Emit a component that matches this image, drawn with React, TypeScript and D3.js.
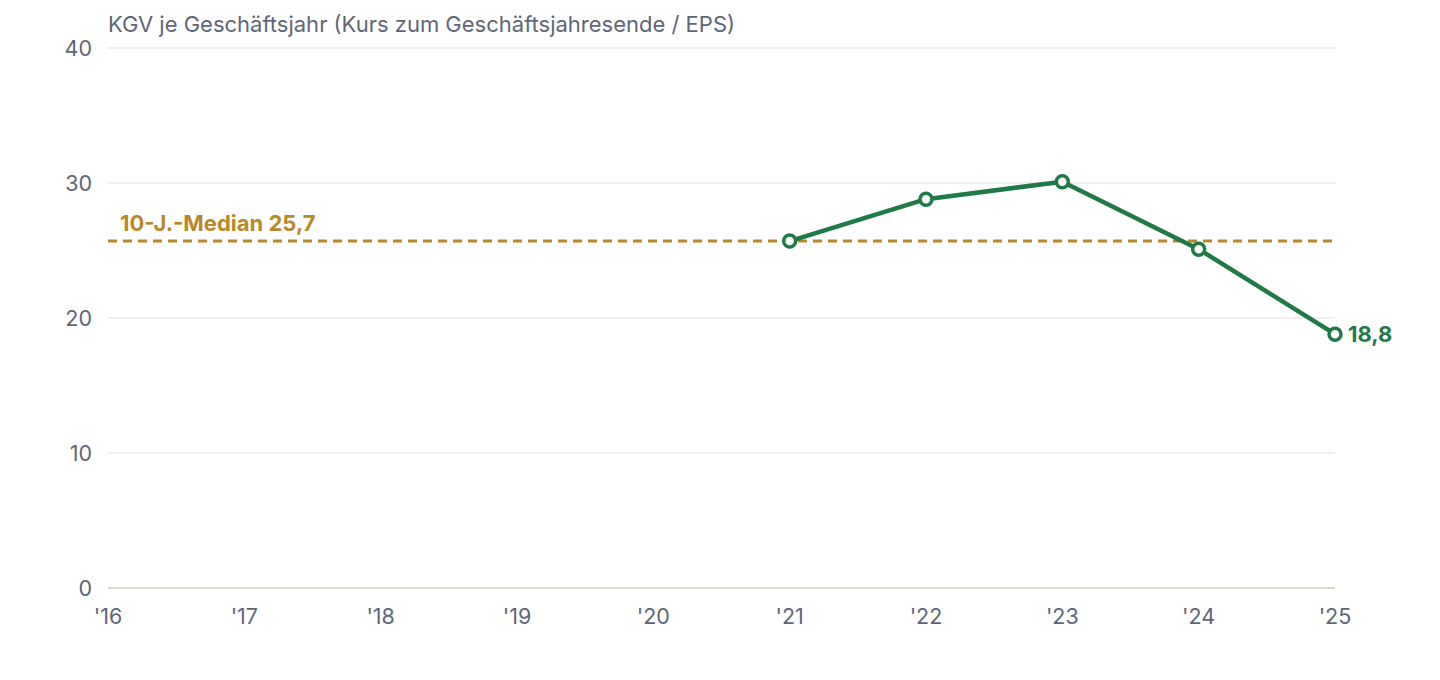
import * as d3 from "d3";

const years = ["'16", "'17", "'18", "'19", "'20", "'21", "'22", "'23", "'24", "'25"];
// KGV values; years without data are null
const peValues: (number | null)[] = [null, null, null, null, null, 25.7, 28.8, 30.1, 25.1, 18.8];
const yTicks = [0, 10, 20, 30, 40];
const median = 25.7;

const W = 1440;
const H = 680;
const M = { left: 108, right: 105, top: 48, bottom: 92 };
const GREEN = "#1f7a47";
const GOLD = "#b8882a";
const GREY = "#5f6675";
const FONT = "Inter, 'Noto Sans', sans-serif";

export default function App() {
  const x = d3
    .scalePoint<string>()
    .domain(years)
    .range([M.left, W - M.right]);
  const y = d3
    .scaleLinear()
    .domain([0, 40])
    .range([H - M.bottom, M.top]);

  const pts = years
    .map((yr, i) => ({ yr, v: peValues[i] }))
    .filter((d) => d.v != null) as { yr: string; v: number }[];

  const line = d3
    .line<{ yr: string; v: number }>()
    .x((d) => x(d.yr)!)
    .y((d) => y(d.v));

  const last = pts[pts.length - 1];

  return (
    <svg
      width={W}
      height={H}
      style={{ position: "absolute", left: 0, top: 0, fontFamily: FONT }}
    >
      <rect width={W} height={H} fill="#fff" />
      <text x={M.left} y={32} fontSize={22} fill={GREY}>
        KGV je Geschäftsjahr (Kurs zum Geschäftsjahresende / EPS)
      </text>

      {yTicks.map((t) => (
        <g key={t}>
          <line
            x1={M.left}
            x2={W - M.right}
            y1={y(t)}
            y2={y(t)}
            stroke={t === 0 ? "#dcd9cb" : "#ebebeb"}
            strokeWidth={t === 0 ? 2 : 1.5}
          />
          <text
            x={92}
            y={y(t)}
            dy="0.35em"
            textAnchor="end"
            fontSize={21.5}
            fill={GREY}
          >
            {t}
          </text>
        </g>
      ))}

      {years.map((yr) => (
        <text
          key={yr}
          x={x(yr)}
          y={624}
          textAnchor="middle"
          fontSize={21.5}
          fill={GREY}
        >
          {yr}
        </text>
      ))}

      <line
        x1={M.left}
        x2={W - M.right}
        y1={y(median)}
        y2={y(median)}
        stroke={GOLD}
        strokeWidth={3}
        strokeDasharray="9 6"
      />
      <text
        x={120}
        y={y(median) - 10}
        fontSize={22}
        fontWeight={700}
        fill={GOLD}
      >
        10-J.-Median {String(median).replace(".", ",")}
      </text>

      <path d={line(pts) ?? ""} fill="none" stroke={GREEN} strokeWidth={4.5} strokeLinejoin="round" />
      {pts.map((d) => (
        <circle
          key={d.yr}
          cx={x(d.yr)}
          cy={y(d.v)}
          r={6}
          fill="#fff"
          stroke={GREEN}
          strokeWidth={3.5}
        />
      ))}
      <text
        x={x(last.yr)! + 13}
        y={y(last.v)}
        dy="0.35em"
        fontSize={22}
        fontWeight={700}
        fill={GREEN}
      >
        {String(last.v).replace(".", ",")}
      </text>
    </svg>
  );
}
